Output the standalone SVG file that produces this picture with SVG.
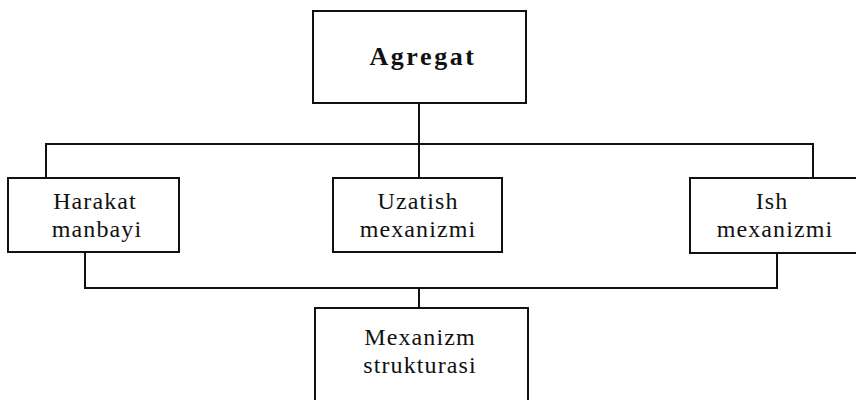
<svg xmlns="http://www.w3.org/2000/svg" width="856" height="400" viewBox="0 0 856 400">
<style>
.box{fill:#fff;stroke:#111;stroke-width:2}
.con{fill:none;stroke:#111;stroke-width:2}
.t{font-family:"Liberation Serif","DejaVu Serif",serif;font-size:24px;fill:#111;text-anchor:middle;letter-spacing:1.1px}
.tb{font-family:"Liberation Serif","DejaVu Serif",serif;font-size:26px;font-weight:bold;fill:#111;text-anchor:middle;letter-spacing:2.6px}
</style>
<rect width="856" height="400" fill="#fff"/>
<g id="connectors">
<path class="con" d="M419,103 V178"/>
<path class="con" d="M46,178 V144 H813 V178"/>
<path class="con" d="M85,252 V288 H777 V253"/>
<path class="con" d="M419,288 V308"/>
</g>
<g id="agregat">
<rect class="box" x="313" y="11" width="213" height="92"/>
<text class="tb" x="423" y="65">Agregat</text>
</g>
<g id="harakat">
<rect class="box" x="8" y="178" width="171" height="74"/>
<text class="t" x="95" y="209">Harakat</text>
<text class="t" x="97" y="237">manbayi</text>
</g>
<g id="uzatish">
<rect class="box" x="333" y="178" width="169" height="74"/>
<text class="t" x="418" y="209">Uzatish</text>
<text class="t" x="418" y="237">mexanizmi</text>
</g>
<g id="ish">
<rect class="box" x="690" y="178" width="172" height="75"/>
<text class="t" x="772" y="209">Ish</text>
<text class="t" x="775" y="237">mexanizmi</text>
</g>
<g id="mexanizm">
<rect class="box" x="315" y="308" width="213" height="100"/>
<text class="t" x="420" y="345">Mexanizm</text>
<text class="t" x="420" y="373">strukturasi</text>
</g>
</svg>
